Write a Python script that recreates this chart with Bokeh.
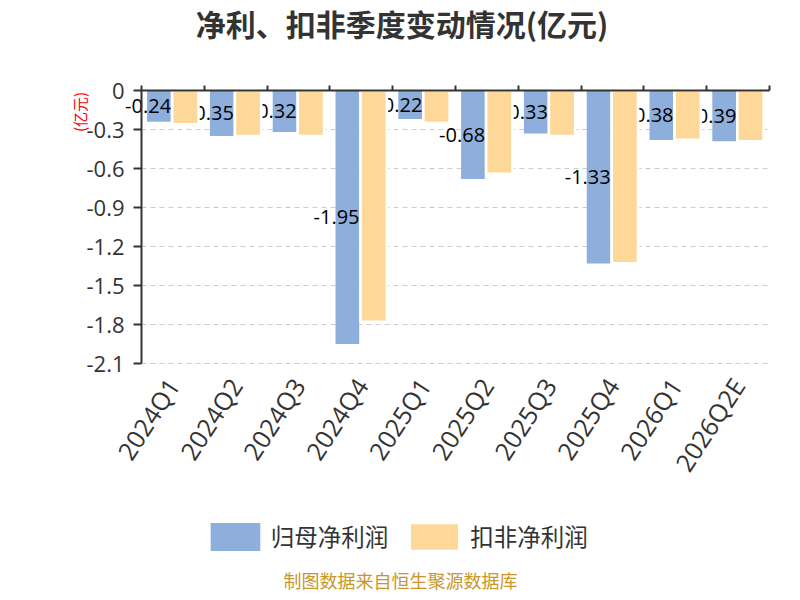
import math
from bokeh.plotting import figure
from bokeh.models import (Range1d, FixedTicker, LinearAxis, Legend, Label,
                          LegendItem, ColumnDataSource)
from bokeh.transform import dodge
from bokeh.core.properties import value
from bokeh.embed import file_html
from bokeh.resources import INLINE

# ---- data ----
categories = ["2024Q1", "2024Q2", "2024Q3", "2024Q4", "2025Q1",
              "2025Q2", "2025Q3", "2025Q4", "2026Q1", "2026Q2E"]
net_profit = [-0.24, -0.35, -0.32, -1.95, -0.22, -0.68, -0.33, -1.33, -0.38, -0.39]
deducted_profit = [-0.26, -0.35, -0.35, -1.78, -0.25, -0.64, -0.35, -1.33, -0.38, -0.39]
y_ticks = [0, -0.3, -0.6, -0.9, -1.2, -1.5, -1.8, -2.1]
y_tick_labels = ["0", "-0.3", "-0.6", "-0.9", "-1.2", "-1.5", "-1.8", "-2.1"]
series_names = ["归母净利润", "扣非净利润"]
title_text = "净利、扣非季度变动情况(亿元)"
unit_text = "(亿元)"
footer_text = "制图数据来自恒生聚源数据库"

BLUE = "#8eaedb"
ORANGE = "#fed899"
CJK = "Noto Sans CJK SC"
LAT = "Open Sans"

n = len(categories)

# ---- layout constants (pixels on the canvas) ----
W, H = 792, 592
TOP_PX, BOT_PX = 90, 363          # rows of y = 0 and y = -2.1
LEFT_PX, RIGHT_PX = 141, 769      # columns of the plot area edges
KY = (BOT_PX - TOP_PX) / abs(y_ticks[-1])
KX = (RIGHT_PX - LEFT_PX) / n

xc = [i + 0.5 for i in range(n)]
src = ColumnDataSource(dict(
    xc=xc,
    cat=categories,
    base=[y_ticks[-1]] * n,
    np_val=net_profit,
    dp_val=deducted_profit,
    label=[f"{v:.2f}" for v in net_profit],
    label_y=[v / 2 for v in net_profit],
))
grid_src = ColumnDataSource(dict(
    y=y_ticks[1:],
    x0=[0] * (len(y_ticks) - 1),
    x1=[n] * (len(y_ticks) - 1),
))

p = figure(width=W, height=H,
           x_range=Range1d(-LEFT_PX / KX, n + (W - RIGHT_PX) / KX),
           y_range=Range1d(-(H - TOP_PX) / KY, TOP_PX / KY),
           x_axis_location=None,
           output_backend="svg", toolbar_location=None,
           min_border_left=0, min_border_right=0,
           min_border_top=0, min_border_bottom=0)
p.title.visible = False
p.outline_line_color = None
p.xgrid.visible = False
p.ygrid.visible = False

# dashed grid lines limited to the plot area
p.segment(x0="x0", x1="x1", y0="y", y1="y", source=grid_src,
          line_color="#cccccc", line_width=1, line_dash="5 4")

BW_BLUE = 0.377
BW_OR = 0.419
OFF_BLUE = -0.222
OFF_OR = 0.197

blue = p.vbar(x=dodge("xc", OFF_BLUE), width=BW_BLUE, top=0, bottom="np_val",
              source=src, fill_color=BLUE, line_color=None)
p.text(x=dodge("xc", OFF_BLUE - BW_BLUE / 2), y="label_y", text="label", source=src,
       x_offset=-22, text_align="left", text_baseline="middle",
       text_font=value(LAT), text_font_size="20px", text_color="#000000")
orange = p.vbar(x=dodge("xc", OFF_OR), width=BW_OR, top=0, bottom="dp_val",
                source=src, fill_color=ORANGE, line_color="white", line_width=2.6)

# category labels under the value axis
p.text(x="xc", y="base", text="cat", source=src, angle=math.radians(57),
       x_offset=0, y_offset=17, text_align="right", text_baseline="middle",
       text_font=value(LAT), text_font_size="25px", text_color="#333333")

# y axis, drawn at x = 0
yt = FixedTicker(ticks=y_ticks)
ya = p.yaxis[0]
ya.ticker = yt
ya.fixed_location = 0
ya.bounds = (y_ticks[-1], y_ticks[0])
ya.major_label_overrides = {t: s for t, s in zip(y_ticks, y_tick_labels)}
ya.axis_line_color = "#333333"
ya.axis_line_width = 2
ya.major_tick_line_color = "#333333"
ya.major_tick_line_width = 2
ya.major_tick_out = 8
ya.major_tick_in = 0
ya.minor_tick_line_color = None
ya.major_label_text_font = LAT
ya.major_label_text_font_size = "22px"
ya.major_label_text_color = "#333333"
ya.major_label_standoff = 9

# zero line with category boundary ticks (ticks pointing up)
bounds_ticks = list(range(n + 1))
zero_ax = LinearAxis(ticker=FixedTicker(ticks=bounds_ticks), bounds=(0, n),
                     fixed_location=0)
zero_ax.major_label_overrides = {t: "" for t in bounds_ticks}
zero_ax.major_label_text_font_size = "1px"
zero_ax.major_label_standoff = 0
zero_ax.axis_line_color = "#333333"
zero_ax.axis_line_width = 2
zero_ax.major_tick_line_color = "#333333"
zero_ax.major_tick_line_width = 2
zero_ax.major_tick_out = 0
zero_ax.major_tick_in = 5
zero_ax.minor_tick_line_color = None
p.add_layout(zero_ax, "below")

# unit label, title, legend, footer
p.add_layout(Label(x=79, y=H - 111.5, x_units="screen", y_units="screen",
                   text=unit_text, angle=math.pi / 2, text_align="center",
                   text_baseline="middle", text_font=CJK, text_font_size="15px",
                   text_color="#ff0000"))
p.add_layout(Label(x=401.6, y=H - 22, x_units="screen", y_units="screen",
                   text=title_text, text_align="center", text_baseline="middle",
                   text_font=CJK, text_font_size="30px", text_font_style="bold",
                   text_color="#333333"))
p.add_layout(Label(x=400, y=13, x_units="screen", y_units="screen",
                   text=footer_text, text_align="center", text_baseline="middle",
                   text_font=CJK, text_font_size="18px", text_color="#c8962a"))

legend = Legend(items=[LegendItem(label=series_names[0], renderers=[blue]),
                       LegendItem(label=series_names[1], renderers=[orange])],
                location=(203.75, 38.5), orientation="horizontal",
                glyph_width=62, glyph_height=35, label_height=35,
                label_text_font=CJK, label_text_font_size="23.5px",
                label_text_color="#333333", label_standoff=5, spacing=15,
                padding=0, margin=0, border_line_color=None,
                background_fill_color=None)
p.add_layout(legend)

open("out.html", "w").write(file_html(p, INLINE))
